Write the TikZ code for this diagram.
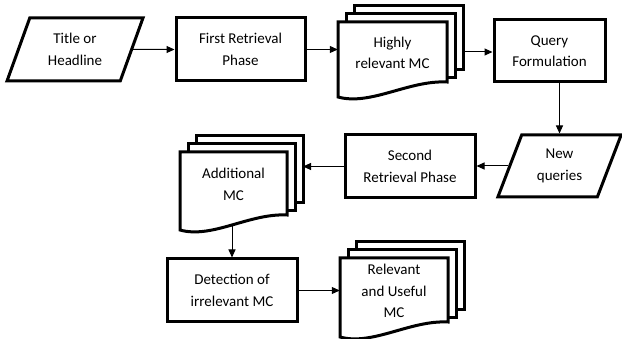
\documentclass[tikz,border=0pt]{standalone}
\usepackage{fontspec}
\setmainfont{Carlito}
\usetikzlibrary{shapes.geometric,arrows.meta}
\tikzset{
  shapeline/.style={draw=black, line width=3pt, fill=white, line join=miter},
  boxnode/.style={shapeline, rectangle, align=center, inner sep=0pt,
    font=\fontsize{15pt}{21.5pt}\selectfont},
  paranode/.style={shapeline, trapezium, trapezium left angle=67, trapezium right angle=113,
    trapezium stretches=true, align=center, inner sep=0pt,
    font=\fontsize{15pt}{21.5pt}\selectfont},
  doctext/.style={rectangle, draw=none, align=center, inner sep=0pt,
    font=\fontsize{15pt}{21.5pt}\selectfont},
  arr/.style={draw=black, line width=1pt, -{Triangle[length=8pt,width=7pt]}}
}
% multi-document: #1 name, #2 x, #3 y (top-left of front page), #4 w, #5 h, #6 text
\newcommand\multidoc[6]{%
  \filldraw[shapeline] (#2+16,#3-16) rectangle ++(#4,#5+4);
  \filldraw[shapeline] (#2+8,#3-8) rectangle ++(#4,#5+4);
  \filldraw[shapeline] (#2,#3+#5+15) -- (#2,#3) -- (#2+#4,#3) -- (#2+#4,#3+#5)
    .. controls (#2+0.65*#4,#3+#5-2) and (#2+0.3*#4,#3+#5+24) .. (#2,#3+#5+15)
    coordinate[pos=0.5] (#1-b) -- cycle;
  \node[doctext, minimum width=#4pt, minimum height=#5pt] (#1) at (#2+#4/2,#3+#5/2+1) {#6};
  \coordinate (#1-r) at (#2+#4+16,#3+#5/2);
}
\begin{document}
\begin{tikzpicture}[x=1pt,y=-1pt]
\useasboundingbox (0,0) rectangle (622,339);

\node[paranode, minimum width=136pt, minimum height=63pt] (title) at (75,49.5) {Title or\\Headline};
\node[boxnode, minimum width=129pt, minimum height=63pt] (frp) at (240.5,49.5) {First Retrieval\\Phase};
\multidoc{hi}{338}{22}{109}{60}{Highly\\relevant MC}
\node[boxnode, minimum width=111pt, minimum height=62pt] (qf) at (549.5,51) {Query\\Formulation};
\node[paranode, minimum width=124pt, minimum height=62pt] (nq) at (559.5,166) {New\\queries};
\node[boxnode, minimum width=130pt, minimum height=63pt] (srp) at (410,166.5) {Second\\Retrieval Phase};
\multidoc{ad}{180}{152}{107}{63}{Additional\\MC}
\node[boxnode, minimum width=130pt, minimum height=63pt] (det) at (232,290.5) {Detection of\\irrelevant MC};
\multidoc{rel}{340}{258}{108}{64}{Relevant\\and Useful\\MC}

\draw[arr] (title) -- (frp);
\draw[arr] (frp.east) -- (frp.east -| hi.west);
\draw[arr] (hi-r) -- (hi-r -| qf.west);
\draw[arr] (nq.north |- qf.south) -- (nq.north);
\draw[arr] (nq.west) -- (nq.west -| srp.east);
\draw[arr] (srp.west) -- (srp.west -| ad-r);
\draw[arr] (det.north |- ad-b) -- (det.north);
\draw[arr] (det.east) -- (det.east -| rel.west);
\end{tikzpicture}
\end{document}
